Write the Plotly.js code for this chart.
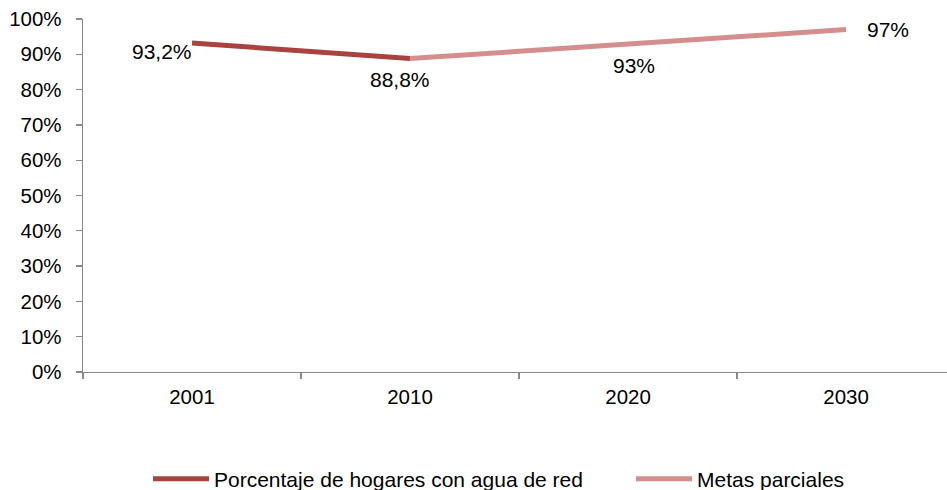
<!DOCTYPE html>
<html>
<head>
<meta charset="utf-8">
<script src="https://cdn.plot.ly/plotly-3.0.1.min.js"></script>
<style>html,body{margin:0;padding:0;background:#fff;}#chart{width:947px;height:490px;}</style>
</head>
<body>
<div id="chart"></div>
<script>
const categories = ['2001', '2010', '2020', '2030'];
const seriesRealName = 'Porcentaje de hogares con agua de red';
const seriesRealX = ['2001', '2010'];
const seriesRealY = [93.2, 88.8];
const seriesMetaName = 'Metas parciales';
const seriesMetaX = ['2010', '2020', '2030'];
const seriesMetaY = [88.8, 93, 97];
const yTickVals = [0, 10, 20, 30, 40, 50, 60, 70, 80, 90, 100];
const yTickText = yTickVals.map(v => v + '%');

const fmt = v => String(v).replace('.', ',') + '%';
const FONT = 'Liberation Sans';
const darkRed = '#A9433F';
const pink = '#D58E8E';

const traces = [
  {x: seriesRealX, y: seriesRealY, name: seriesRealName, type: 'scatter', mode: 'lines',
   line: {color: darkRed, width: 5}, hoverinfo: 'skip', legend: 'legend'},
  {x: seriesMetaX, y: seriesMetaY, name: seriesMetaName, type: 'scatter', mode: 'lines',
   line: {color: pink, width: 5}, hoverinfo: 'skip', legend: 'legend2'}
];

// label offsets (style only)
const labelPts = [
  {x: seriesRealX[0], y: seriesRealY[0], xanchor: 'right', xshift: 2, yshift: -8},
  {x: seriesRealX[1], y: seriesRealY[1], xanchor: 'center', xshift: -10, yshift: -21},
  {x: seriesMetaX[1], y: seriesMetaY[1], xanchor: 'center', xshift: 6, yshift: -22},
  {x: seriesMetaX[2], y: seriesMetaY[2], xanchor: 'center', xshift: 42, yshift: 0}
];
const annotations = labelPts.map(p => ({
  x: categories.indexOf(p.x), y: p.y, xref: 'x', yref: 'y', text: fmt(p.y), showarrow: false,
  xanchor: p.xanchor, yanchor: 'middle', xshift: p.xshift, yshift: p.yshift,
  font: {family: FONT, size: 21, color: '#000'}
}));

const legendBase = {
  orientation: 'h', xref: 'container', yref: 'container',
  y: 11 / 490, xanchor: 'left', yanchor: 'middle',
  font: {family: FONT, size: 21, color: '#000'},
  itemwidth: 56, bgcolor: 'rgba(0,0,0,0)'
};

const layout = {
  width: 947, height: 490,
  margin: {l: 83, r: 0, t: 19, b: 118, pad: 0},
  paper_bgcolor: '#fff', plot_bgcolor: '#fff',
  font: {family: FONT, size: 20.5, color: '#000'},
  showlegend: true,
  legend: Object.assign({}, legendBase, {x: 148 / 947}),
  legend2: Object.assign({}, legendBase, {x: 631 / 947}),
  xaxis: {
    type: 'category', categoryorder: 'array', categoryarray: categories,
    tickvals: categories, range: [-0.5, 3.463],
    showline: true, linecolor: '#898989', linewidth: 1.3,
    ticks: 'outside', tickson: 'boundaries', ticklen: 6, tickcolor: '#898989', tickwidth: 1.3,
    showgrid: false, zeroline: false, fixedrange: true, ticklabelstandoff: 6,
    tickfont: {family: FONT, size: 20.5, color: '#000'}
  },
  yaxis: {
    range: [0, 100], tickmode: 'array', tickvals: yTickVals, ticktext: yTickText,
    showline: true, linecolor: '#898989', linewidth: 1.3,
    ticks: 'outside', ticklen: 6, tickcolor: '#898989', tickwidth: 1.3,
    showgrid: false, zeroline: false, fixedrange: true, ticklabelstandoff: 10,
    tickfont: {family: FONT, size: 20.5, color: '#000'}
  },
  annotations: annotations
};

Plotly.newPlot('chart', traces, layout, {displayModeBar: false, staticPlot: true});
</script>
</body>
</html>
